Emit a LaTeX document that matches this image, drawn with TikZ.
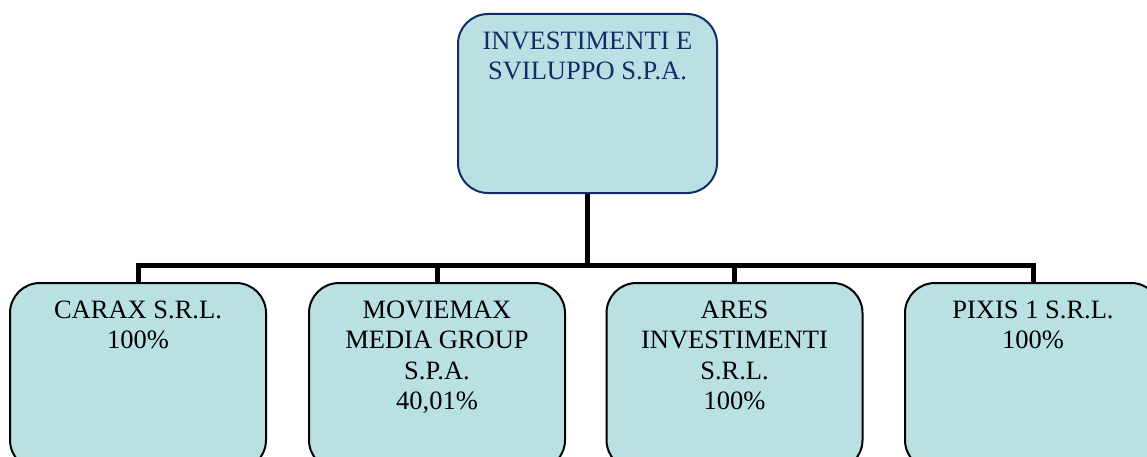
\documentclass[tikz,border=0pt]{standalone}
\usepackage{fontspec}
\setmainfont{Liberation Serif}
\usetikzlibrary{positioning}
\definecolor{boxfill}{HTML}{B9E0E3}
\definecolor{navy}{HTML}{112C66}
\begin{document}
\begin{tikzpicture}[x=1pt,y=-1pt,
  orgbox/.style={draw, line width=2pt, fill=boxfill, rounded corners=30pt, minimum width=256pt, minimum height=187pt, inner sep=0pt},
  orgtext/.style={inner sep=0pt, align=center, font=\fontsize{26.5}{30.5}\selectfont},
  conn/.style={line width=5pt, line join=miter}]
\useasboundingbox (0,0) rectangle (1147,457);
\clip (0,0) rectangle (1147,457);
\fill[white] (0,0) rectangle (1147,457);
% top box
\node[orgbox, draw=navy, minimum width=259pt, minimum height=179pt] (top) at (587.5,103.5) {};
\node[orgtext, text=navy, below=18.5pt of top.north] (ttop) {INVESTIMENTI E\\SVILUPPO S.P.A.};
% bottom boxes
\node[orgbox] (b1) at (138,376.5) {};
\node[orgbox] (b2) at (437,376.5) {};
\node[orgbox] (b3) at (734.5,376.5) {};
\node[orgbox] (b4) at (1033,376.5) {};
\node[orgtext, below=18.5pt of b1.north] (t1) {CARAX S.R.L.\\100\%};
\node[orgtext, below=18.5pt of b2.north] (t2) {MOVIEMAX\\MEDIA GROUP\\S.P.A.\\40,01\%};
\node[orgtext, below=18.5pt of b3.north] (t3) {ARES\\INVESTIMENTI\\S.R.L.\\100\%};
\node[orgtext, below=18.5pt of b4.north] (t4) {PIXIS 1 S.R.L.\\100\%};
% connectors
\coordinate (j) at (587.5,265);
\draw[conn] (top.south) -- (j);
\draw[conn] (b1.north) -- (b1.north |- j) -- (b4.north |- j) -- (b4.north);
\draw[conn] (b2.north) -- (b2.north |- j);
\draw[conn] (b3.north) -- (b3.north |- j);
\end{tikzpicture}
\end{document}
